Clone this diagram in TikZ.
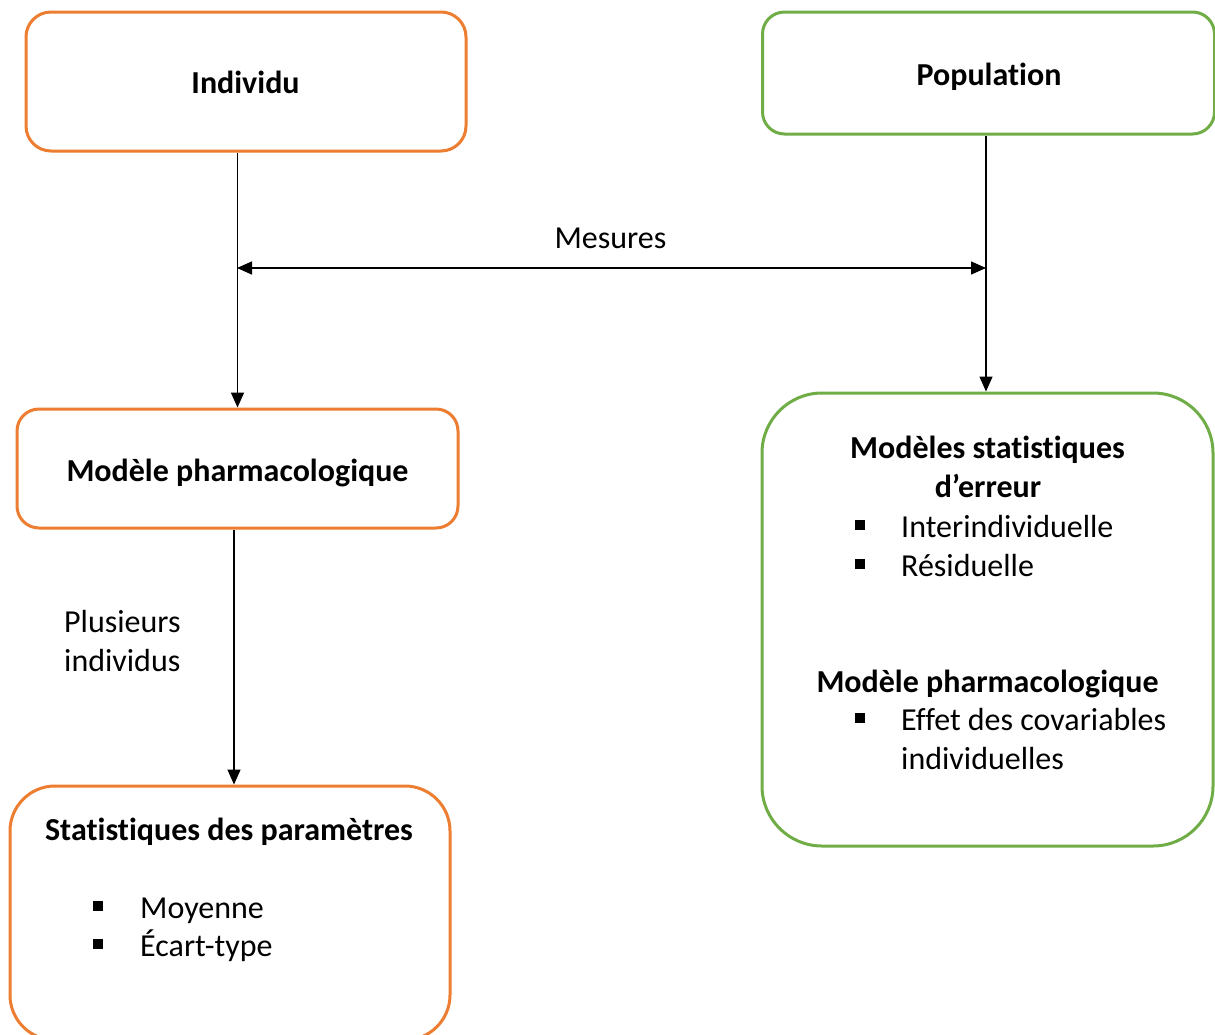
\documentclass[tikz,border=0pt]{standalone}
\usepackage{fontspec}
\setmainfont[Ligatures={NoCommon,NoRare}]{Carlito}
\usetikzlibrary{arrows.meta,calc}
\definecolor{orng}{HTML}{ED7D31}
\definecolor{grn}{HTML}{70AD47}
\begin{document}
\begin{tikzpicture}[x=1pt,y=-1pt,
  obox/.style={draw=orng,line width=3pt,minimum width=#1},
  gbox/.style={draw=grn,line width=3pt,minimum width=#1},
  txt/.style={inner sep=0pt,font=\fontsize{32}{39}\selectfont},
  btxt/.style={txt,font=\fontsize{32}{39}\selectfont\bfseries},
  arr/.style={line width=1.5pt,-{Triangle[length=15pt,width=13pt]}},
  darr/.style={line width=1.5pt,{Triangle[length=15pt,width=13pt]}-{Triangle[length=15pt,width=13pt]}}]
\useasboundingbox (0,0) rectangle (1215,1034);
\clip (0,0) rectangle (1215,1034);
% boxes
\node[obox=440pt,minimum height=139pt,rounded corners=25pt] (ind) at (246,81.5) {};
\node[gbox=452pt,minimum height=122pt,rounded corners=22pt] (pop) at (988.5,73) {};
\node[obox=441pt,minimum height=119pt,rounded corners=22pt] (modL) at (237.5,468.5) {};
\node[gbox=451pt,minimum height=453pt,rounded corners=60pt] (big) at (987.5,619.5) {};
\node[obox=440pt,minimum height=254pt,rounded corners=45pt] (stat) at (230,913) {};
% texts
\node[btxt,anchor=base] (tInd) at (245.5,93) {Individu};
\node[btxt,anchor=base] (tPop) at (989,85) {Population};
\node[btxt,anchor=base] (tModL) at (237.5,481) {Modèle pharmacologique};
\node[btxt,anchor=base] (tMS1) at (987.5,458) {Modèles statistiques};
\node[btxt,anchor=base] (tMS2) at (988,497) {d’erreur};
\node[txt,anchor=base west] (tInter) at (855,537) {\makebox[46pt][l]{\rule[7pt]{10pt}{10pt}}Interindividuelle};
\node[txt,anchor=base west] (tRes) at (855,576) {\makebox[46pt][l]{\rule[7pt]{10pt}{10pt}}Résiduelle};
\node[btxt,anchor=base] (tModR) at (987.5,692) {Modèle pharmacologique};
\node[txt,anchor=base west] (tEff1) at (855,730) {\makebox[46pt][l]{\rule[7pt]{10pt}{10pt}}Effet des covariables};
\node[txt,anchor=base west] (tEff2) at (901,769) {individuelles};
\node[btxt,anchor=base] (tStat) at (229,840) {Statistiques des paramètres};
\node[txt,anchor=base west] (tMoy) at (93,918) {\makebox[47pt][l]{\rule[7pt]{10pt}{10pt}}Moyenne};
\node[txt,anchor=base west] (tEc) at (93,956) {\makebox[47pt][l]{\rule[7pt]{10pt}{10pt}}Écart-type};
\node[txt,anchor=base west] (tPl1) at (64,632) {Plusieurs};
\node[txt,anchor=base west] (tPl2) at (64,671) {individus};
% connectors
\coordinate (mL) at (237,268);
\coordinate (mR) at (986,268);
\draw[arr] (ind.south -| modL.north) -- (modL.north);
\draw[arr] ($(pop.south)+(-2.5,0)$) -- ($(big.north)+(-1.5,0)$);
\draw[darr] (mL) -- (mR);
\node[txt,anchor=base] (tMes) at ($(mL)!0.5!(mR)+(-1,-20)$) {Mesures};
\draw[arr] ($(modL.south)+(-3.5,0)$) -- ($(stat.north)+(4,0)$);
\end{tikzpicture}
\end{document}
